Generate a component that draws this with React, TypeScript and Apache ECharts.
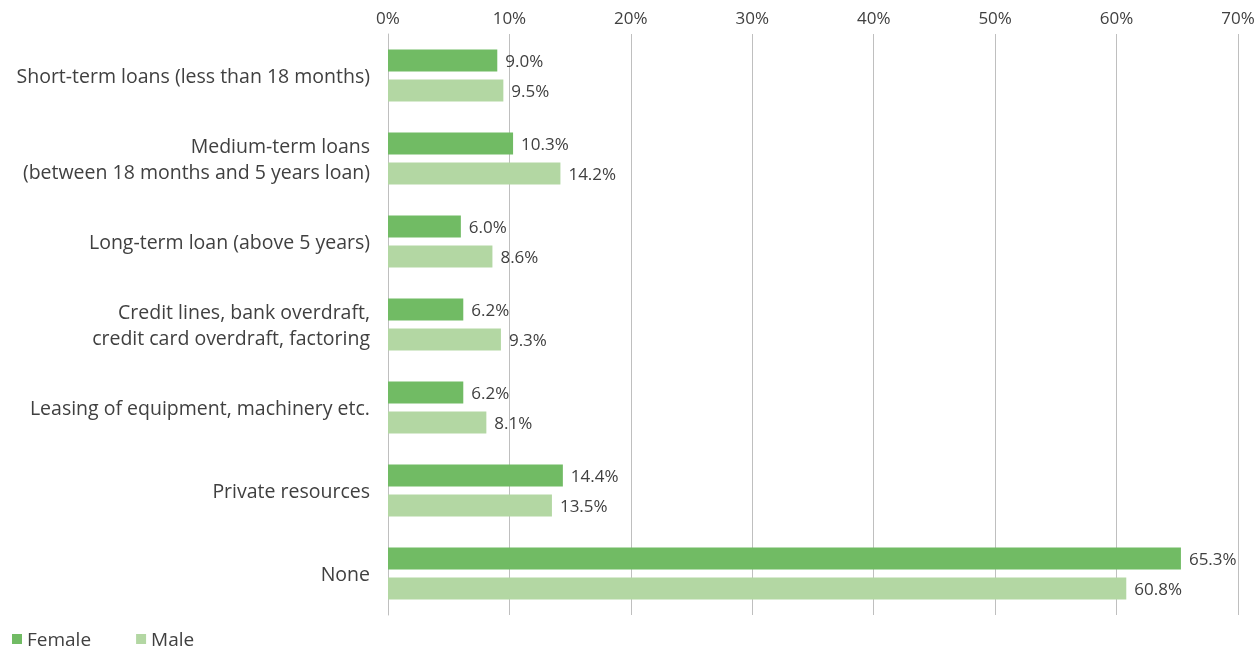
import React, { useEffect, useRef } from "react";
import * as echarts from "echarts";

const categories = [
  "Short-term loans (less than 18 months)",
  "Medium-term loans\n(between 18 months and 5 years loan)",
  "Long-term loan (above 5 years)",
  "Credit lines, bank overdraft,\ncredit card overdraft, factoring",
  "Leasing of equipment, machinery etc.",
  "Private resources",
  "None",
];
const female = [9.0, 10.3, 6.0, 6.2, 6.2, 14.4, 65.3];
const male = [9.5, 14.2, 8.6, 9.3, 8.1, 13.5, 60.8];
const xTicks = { min: 0, max: 70, interval: 10 };

const FONT = "'Open Sans', 'Noto Sans', sans-serif";
const TXT = "#404040";

export default function App() {
  const ref = useRef<HTMLDivElement>(null);
  useEffect(() => {
    const chart = echarts.init(ref.current!, null, { renderer: "svg" });
    const label = {
      show: true,
      position: "right" as const,
      distance: 8,
      color: TXT,
      fontSize: 17,
      fontFamily: FONT,
      formatter: (p: any) => p.value.toFixed(1) + "%",
    };
    chart.setOption({
      animation: false,
      textStyle: { fontFamily: FONT },
      grid: { left: 388, right: 20, top: 34, height: 581 },
      legend: {
        left: 12,
        top: 629,
        padding: 0,
        itemWidth: 10,
        itemHeight: 10,
        itemGap: 45,
        icon: "rect",
        textStyle: { color: TXT, fontSize: 19, lineHeight: 20, fontFamily: FONT },
        data: ["Female", "Male"],
      },
      xAxis: {
        type: "value",
        position: "top",
        min: xTicks.min,
        max: xTicks.max,
        interval: xTicks.interval,
        axisLine: { show: false },
        axisTick: { show: false },
        axisLabel: {
          color: TXT,
          fontSize: 17,
          fontFamily: FONT,
          margin: 8,
          formatter: (v: number) => v + "%",
        },
        splitLine: { show: true, lineStyle: { color: "#bfbfbf", width: 1 } },
      },
      yAxis: {
        type: "category",
        inverse: true,
        data: categories,
        axisLine: { show: true, lineStyle: { color: "#bfbfbf" } },
        axisTick: { show: false },
        axisLabel: {
          color: TXT,
          fontSize: 19.5,
          fontFamily: FONT,
          margin: 18,
          lineHeight: 26,
          align: "right",
        },
      },
      series: [
        {
          name: "Female",
          type: "bar",
          data: female,
          barWidth: 22,
          barGap: "36%",
          itemStyle: { color: "#71bb64" },
          label,
        },
        {
          name: "Male",
          type: "bar",
          data: male,
          barWidth: 22,
          itemStyle: { color: "#b3d7a3" },
          label,
        },
      ],
    });
    return () => chart.dispose();
  }, []);
  return (
    <div
      ref={ref}
      style={{ position: "fixed", left: 0, top: 0, width: 1258, height: 651 }}
    />
  );
}
